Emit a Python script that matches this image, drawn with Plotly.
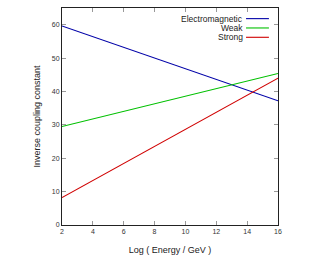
import plotly.graph_objects as go

log_energy = [2, 16]
electromagnetic = [59.6, 37.2]
weak = [29.5, 45.4]
strong = [8.2, 44.0]

series_names = ["Electromagnetic", "Weak", "Strong"]
series_values = [electromagnetic, weak, strong]
series_colors = ["#0000a8", "#00c000", "#d00000"]

fig = go.Figure()
for name, vals, col in zip(series_names, series_values, series_colors):
    fig.add_trace(go.Scatter(x=log_energy, y=vals, mode="lines", name=name,
                             line=dict(color=col, width=1.1), showlegend=False))

# gnuplot-style legend: text right-aligned with sample line to the right
leg_y = [0.951, 0.908, 0.865]
for name, col, yy in zip(series_names, series_colors, leg_y):
    fig.add_annotation(x=0.848, y=yy, xref="paper", yref="paper", text=name,
                       showarrow=False, xanchor="right", yanchor="middle",
                       font=dict(size=8.5, color="#222222", family="Liberation Sans"))
    fig.add_shape(type="line", xref="paper", yref="paper", x0=0.852, x1=0.958,
                  y0=yy, y1=yy, line=dict(color=col, width=1.1))

axis_common = dict(showgrid=False, zeroline=False, showline=True, linecolor="#222222",
                   linewidth=1, mirror="ticks", ticks="inside", ticklen=4,
                   tickcolor="#999999", tickwidth=1, automargin=False,
                   tickfont=dict(size=7, color="#333333", family="Liberation Sans"))

fig.update_xaxes(range=[2, 16], tickvals=[2, 4, 6, 8, 10, 12, 14, 16],
                 title=dict(text="Log ( Energy / GeV )", standoff=12,
                            font=dict(size=9, color="#222222", family="Liberation Sans")),
                 **axis_common)
fig.update_yaxes(range=[0, 65], tickvals=[0, 10, 20, 30, 40, 50, 60],
                 title=dict(text="Inverse coupling constant", standoff=9,
                            font=dict(size=9, color="#222222", family="Liberation Sans")),
                 **axis_common)

fig.update_layout(width=320, height=256, margin=dict(l=62, r=42, t=8, b=31),
                  paper_bgcolor="white", plot_bgcolor="white")

fig.write_html("out.html")
